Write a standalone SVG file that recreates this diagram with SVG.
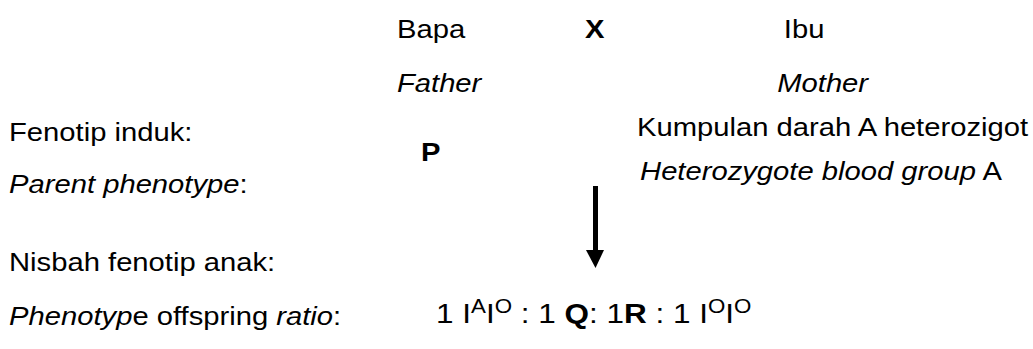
<svg xmlns="http://www.w3.org/2000/svg" width="1033" height="349" viewBox="0 0 1033 349">
<style>
text{font-family:"Liberation Sans",Arial,sans-serif;font-size:25.5px;fill:#000}
.i{font-style:italic}
.b{font-weight:bold}
.r{font-size:27.5px}
.s{font-size:19.5px}
</style>
<rect width="1033" height="349" fill="#fff"/>
<g transform="scale(1.145 1)">
<g id="father"><text x="346.7" y="38">Bapa</text><text x="346.7" y="92" class="i">Father</text></g>
<g id="cross"><text x="510.9" y="38" class="b">X</text></g>
<g id="mother"><text x="684.6" y="38">Ibu</text><text x="678.8" y="92" class="i">Mother</text></g>
<g id="parent-label"><text x="7.9" y="141">Fenotip induk:</text><text x="7.9" y="193"><tspan class="i">Parent phenotype</tspan>:</text></g>
<g id="p"><text x="367.7" y="161" class="b">P</text></g>
<g id="parent-phenotype"><text x="556.3" y="136">Kumpulan darah A heterozigot</text><text x="559" y="180"><tspan class="i">Heterozygote blood group</tspan> A</text></g>
<g id="offspring-label"><text x="7.9" y="271">Nisbah fenotip anak:</text><text x="7.9" y="325"><tspan class="i">Phenotyp</tspan>e offspring <tspan class="i">ratio</tspan>:</text></g>
<g id="ratio"><text x="380.8" y="323" class="r">1 I<tspan class="s" dy="-10">A</tspan><tspan dy="10">I</tspan><tspan class="s" dy="-10">O</tspan><tspan dy="10"> : 1 </tspan><tspan class="b">Q</tspan>: 1<tspan class="b">R</tspan> : 1 I<tspan class="s" dy="-10">O</tspan><tspan dy="10">I</tspan><tspan class="s" dy="-10">O</tspan></text></g>
</g>
<g id="connectors">
<rect x="593" y="186" width="5" height="65"/>
<polygon points="586,250 604,250 595.5,268"/>
</g>
</svg>
